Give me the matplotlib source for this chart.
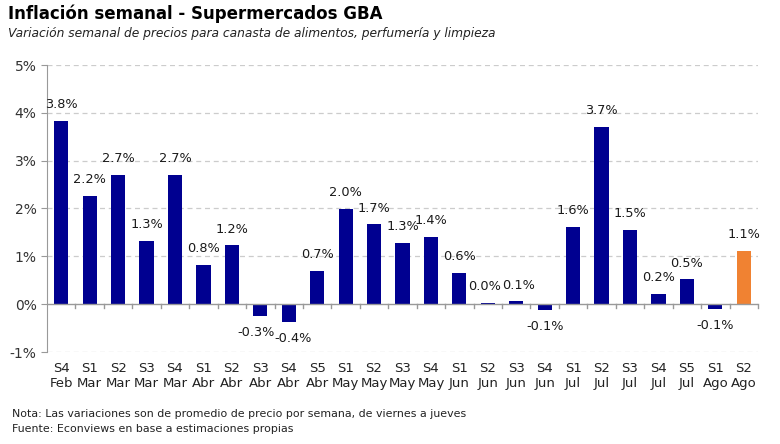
import numpy as np
import matplotlib.pyplot as plt
from matplotlib.ticker import FuncFormatter

# Weekly values (%)
semanas = ["S4", "S1", "S2", "S3", "S4", "S1", "S2", "S3", "S4", "S5", "S1", "S2", "S3",
           "S4", "S1", "S2", "S3", "S4", "S1", "S2", "S3", "S4", "S5", "S1", "S2"]
meses = ["Feb", "Mar", "Mar", "Mar", "Mar", "Abr", "Abr", "Abr", "Abr", "Abr", "May", "May", "May",
         "May", "Jun", "Jun", "Jun", "Jun", "Jul", "Jul", "Jul", "Jul", "Jul", "Ago", "Ago"]
valores = [3.83, 2.26, 2.70, 1.32, 2.70, 0.82, 1.23, -0.25, -0.38, 0.69, 1.99, 1.67, 1.28,
           1.40, 0.65, 0.02, 0.06, -0.12, 1.61, 3.70, 1.55, 0.21, 0.52, -0.10, 1.11]
etiquetas = ["3.8%", "2.2%", "2.7%", "1.3%", "2.7%", "0.8%", "1.2%", "-0.3%", "-0.4%", "0.7%",
             "2.0%", "1.7%", "1.3%", "1.4%", "0.6%", "0.0%", "0.1%", "-0.1%", "1.6%", "3.7%",
             "1.5%", "0.2%", "0.5%", "-0.1%", "1.1%"]

azul = "#000090"
naranja = "#F08232"

fig = plt.figure(figsize=(7.8, 4.44), dpi=100)
ax = fig.add_axes([47 / 780, 1 - 352 / 444, (758 - 47) / 780, (352 - 65) / 444])

x = np.arange(len(valores))
colores = [azul] * (len(valores) - 1) + [naranja]
ax.bar(x, valores, width=0.5, color=colores, zorder=3)

# small horizontal nudges so the -0.3% / -0.4% labels do not collide
nudge = {7: -3, 8: 3, 15: -2, 16: 2}
for i, (xi, v, t) in enumerate(zip(x, valores, etiquetas)):
    dx = nudge.get(i, 0)
    if v >= 0:
        ax.annotate(t, (xi, v), xytext=(dx, 7), textcoords="offset points",
                    ha="center", va="bottom", fontsize=9.3, color="#1a1a1a")
    else:
        ax.annotate(t, (xi, v), xytext=(dx, -7), textcoords="offset points",
                    ha="center", va="top", fontsize=9.3, color="#1a1a1a")

ax.set_ylim(-1, 5)
ax.set_xlim(-0.5, len(valores) - 0.5)
ax.set_yticks(range(-1, 6))
ax.yaxis.set_major_formatter(FuncFormatter(lambda v, p: f"{v:.0f}%"))
ax.tick_params(axis="y", labelsize=10, colors="#333333", length=4, color="#999999")
for yv in [-1, 1, 2, 3, 4, 5]:
    ax.axhline(yv, color="#cccccc", lw=0.9, ls=(0, (4, 3)), zorder=1)
ax.axhline(0, color="#999999", lw=1, zorder=4)
# category separators at zero line
for b in np.arange(-0.5, len(valores), 1.0)[1:]:
    ax.plot([b, b], [0, -0.09], color="#999999", lw=1, zorder=4, clip_on=False)

ax.set_xticks(x)
ax.set_xticklabels([f"{s}\n{m}" for s, m in zip(semanas, meses)], fontsize=9.5, color="#222222")
ax.tick_params(axis="x", length=0, pad=7)
for s in ["top", "right", "bottom"]:
    ax.spines[s].set_visible(False)
ax.spines["left"].set_color("#999999")

fig.text(8 / 780, 1 - 14 / 444, "Inflación semanal - Supermercados GBA", fontsize=12,
         fontweight="bold", va="center", ha="left")
fig.text(8 / 780, 1 - 33 / 444,
         "Variación semanal de precios para canasta de alimentos, perfumería y limpieza",
         fontsize=8.8, style="italic", va="center", ha="left", color="#222222")
fig.text(12 / 780, 1 - 414 / 444,
         "Nota: Las variaciones son de promedio de precio por semana, de viernes a jueves",
         fontsize=7.9, va="center", ha="left", color="#222222")
fig.text(12 / 780, 1 - 429 / 444, "Fuente: Econviews en base a estimaciones propias",
         fontsize=7.9, va="center", ha="left", color="#222222")

fig.savefig("out.png", dpi=100)
